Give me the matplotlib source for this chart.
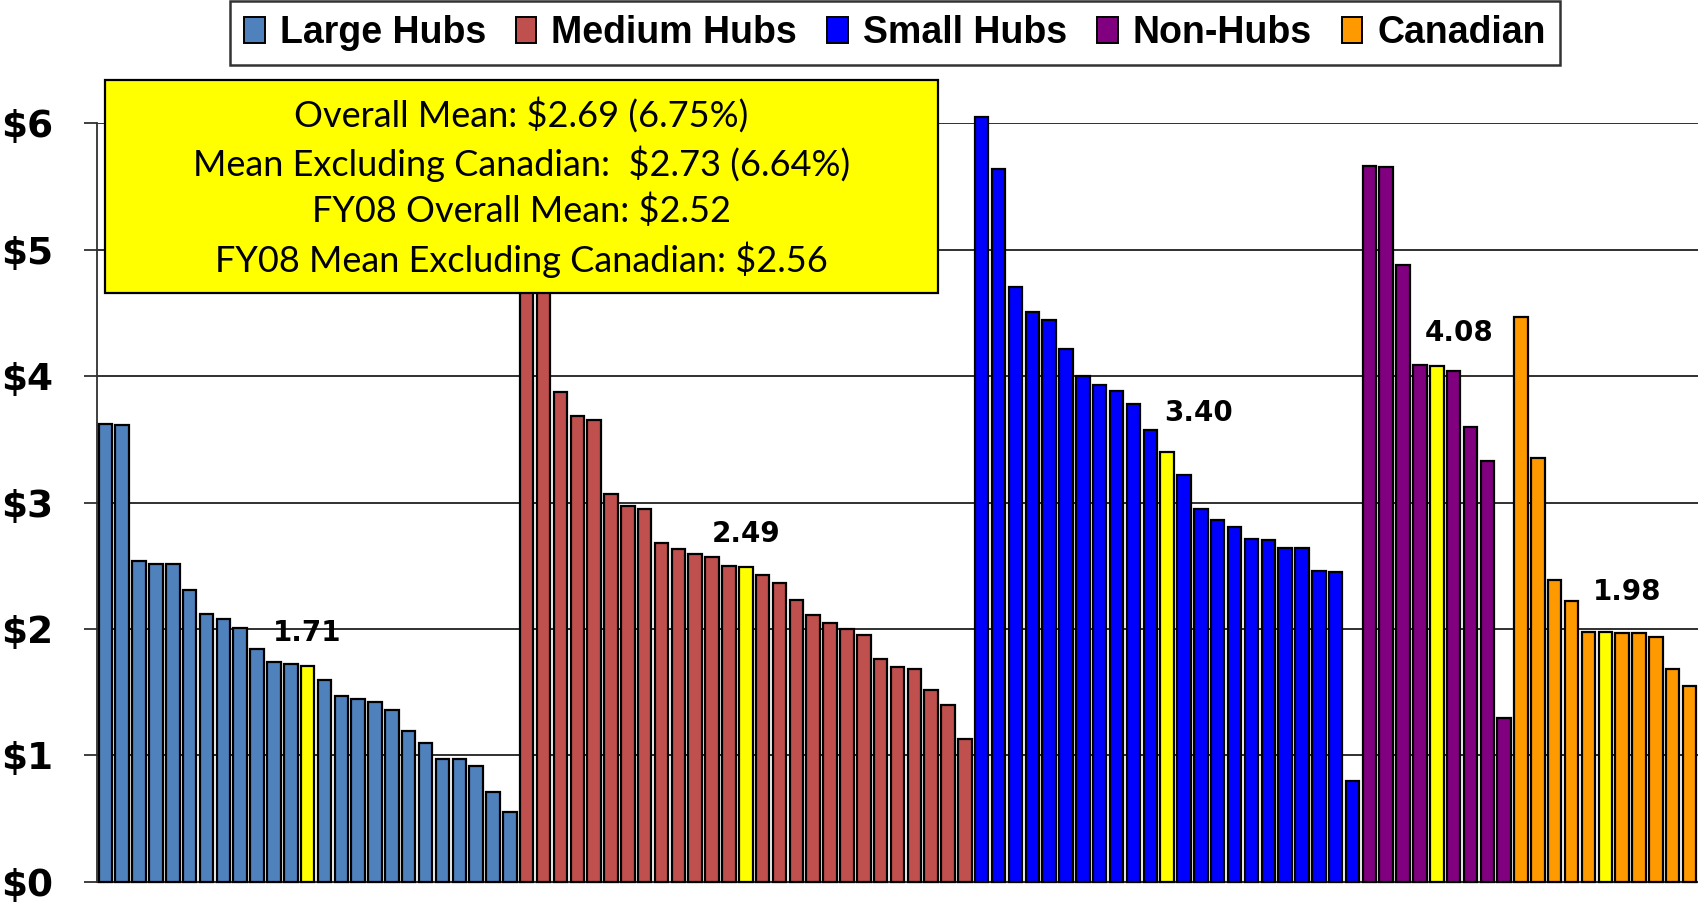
"""
Passenger facility charge style bar chart - per-airport values sorted by hub type
"""
import matplotlib
matplotlib.use("Agg")
import matplotlib.pyplot as plt
from matplotlib.patches import Rectangle, Patch
import numpy as np

# Datos por grupo (ordenados de mayor a menor, como en la figura)
groups = ["Large Hubs", "Medium Hubs", "Small Hubs", "Non-Hubs", "Canadian"]
group_colors = ["#4F81BD", "#C0504D", "#0000FF", "#800080", "#FF9900"]

large_hubs = [3.62, 3.61, 2.54, 2.51, 2.51, 2.31, 2.12, 2.08, 2.01, 1.84, 1.74,
              1.72, 1.71, 1.60, 1.47, 1.45, 1.42, 1.36, 1.19, 1.10, 0.97, 0.97,
              0.92, 0.71, 0.55]
medium_hubs = [5.40, 5.10, 3.87, 3.68, 3.65, 3.07, 2.97, 2.95, 2.68, 2.63, 2.59,
               2.57, 2.50, 2.49, 2.43, 2.36, 2.23, 2.11, 2.05, 2.00, 1.95, 1.76,
               1.70, 1.68, 1.52, 1.40, 1.13]
small_hubs = [6.05, 5.64, 4.70, 4.51, 4.44, 4.21, 4.00, 3.93, 3.88, 3.78, 3.57,
              3.40, 3.22, 2.95, 2.86, 2.81, 2.71, 2.70, 2.64, 2.64, 2.46, 2.45,
              0.80]
non_hubs = [5.66, 5.65, 4.88, 4.09, 4.08, 4.04, 3.60, 3.33, 1.30]
canadian = [4.47, 3.35, 2.39, 2.22, 1.98, 1.98, 1.97, 1.97, 1.94, 1.68, 1.55]

# Indice de la mediana (barra amarilla) dentro de cada grupo
median_idx = [12, 13, 11, 4, 5]

box_lines = [
    "Overall Mean: $2.69 (6.75%)",
    "Mean Excluding Canadian:  $2.73 (6.64%)",
    "FY08 Overall Mean: $2.52",
    "FY08 Mean Excluding Canadian: $2.56",
]
y_ticks = [0, 1, 2, 3, 4, 5, 6]
y_ticklabels = ["$0", "$1", "$2", "$3", "$4", "$5", "$6"]

# Desplazamiento de las etiquetas de mediana (en unidades de barra / dolar)
label_dx = [0.0, 0.0, 1.85, 1.3, 1.3]
label_dy = [0.26, 0.26, 0.31, 0.26, 0.31]


def main():
    series = [large_hubs, medium_hubs, small_hubs, non_hubs, canadian]

    values, colors, medians = [], [], []
    start = 0
    for vals, col, mi in zip(series, group_colors, median_idx):
        for i, v in enumerate(vals):
            values.append(v)
            colors.append("#FFFF00" if i == mi else col)
        medians.append((start + mi, vals[mi]))
        start += len(vals)
    x = np.arange(len(values))

    fig = plt.figure(figsize=(16.98, 9.06), dpi=100)
    ax = fig.add_axes([0.0571, 0.0265, 0.9429, 0.8377])

    ax.bar(x, values, width=0.8, color=colors, edgecolor="black",
           linewidth=1.6, zorder=3, clip_on=False)

    ax.set_xlim(-0.5, len(values) - 0.5)
    ax.set_ylim(0, 6)
    ax.set_xticks([])
    ax.set_yticks(y_ticks)
    ax.set_yticklabels(y_ticklabels, fontsize=27, fontweight="bold",
                       family="DejaVu Sans")
    ax.tick_params(axis="y", length=9.5, width=1.3, pad=22, color="#303030")
    ax.yaxis.grid(True, color="#303030", linewidth=1.4)
    ax.set_axisbelow(True)
    for side in ["top", "right"]:
        ax.spines[side].set_visible(False)
    ax.spines["left"].set_color("#303030")
    ax.spines["left"].set_linewidth(1.3)
    ax.spines["bottom"].set_color("#303030")
    ax.spines["bottom"].set_linewidth(1.5)

    # Etiquetas de mediana
    for (xi, v), dx, dy in zip(medians, label_dx, label_dy):
        ax.text(xi + dx, v + dy, f"{v:.2f}", ha="center", va="center",
                fontsize=20, fontweight="bold", family="DejaVu Sans", zorder=5)

    # Caja amarilla con las medias
    box = Rectangle((0.0618, 0.6766), 0.4906, 0.2351, transform=fig.transFigure,
                    facecolor="#FFFF00", edgecolor="black", linewidth=1.6,
                    zorder=10, clip_on=False)
    ax.add_patch(box)
    line_y = [0.873, 0.819, 0.767, 0.713]
    for txt, yy in zip(box_lines, line_y):
        fig.text(0.3071, yy, txt, ha="center", va="center", fontsize=26,
                 family=["Lato", "DejaVu Sans"], zorder=11)

    # Leyenda
    handles = [Patch(facecolor=c, edgecolor="black", linewidth=1.4)
               for c in group_colors]
    leg = fig.legend(handles, groups, loc="upper center",
                     bbox_to_anchor=(0.527, 0.999), ncol=5, frameon=True,
                     fancybox=False, edgecolor="black", handlelength=0.55,
                     handleheight=0.7, handletextpad=0.4, columnspacing=0.8,
                     borderpad=0.38, borderaxespad=0.0,
                     prop={"family": "Liberation Sans", "weight": "bold",
                           "size": 27})
    leg.get_frame().set_linewidth(1.8)

    fig.savefig("out.png", dpi=100)


if __name__ == "__main__":
    main()
